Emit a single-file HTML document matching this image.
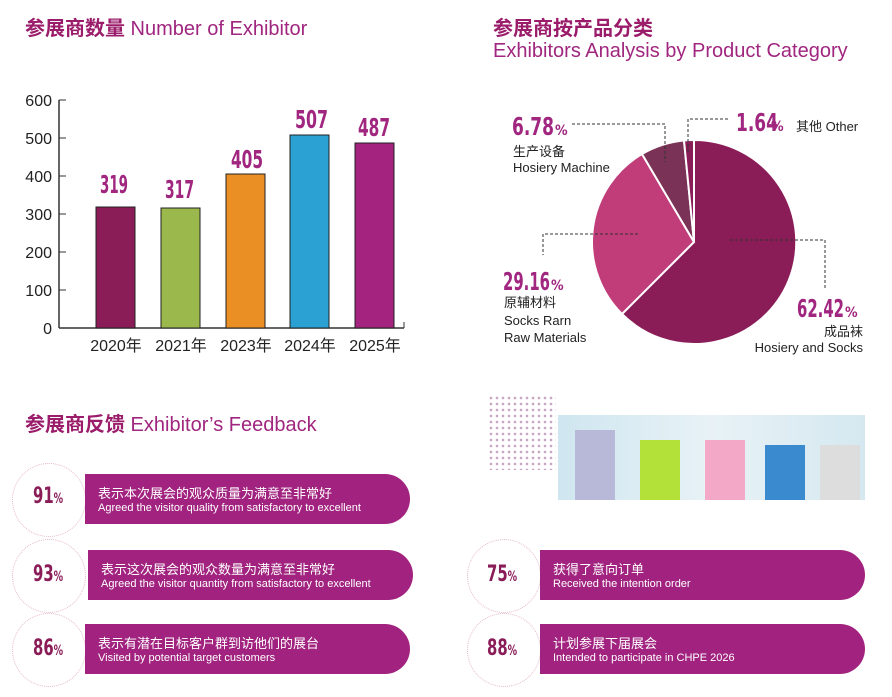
<!DOCTYPE html>
<html><head><meta charset="utf-8"><style>
body{margin:0;width:892px;height:697px;background:#fff;overflow:hidden;position:relative;font-family:"Liberation Sans","Noto Sans CJK SC",sans-serif;}
.t{position:absolute;font-size:20px;color:#a0267f;white-space:nowrap}
.t b{color:#9a1c6a}
.pill{position:absolute;height:50px;width:325px;background:#a1237f;border-radius:0 25px 25px 0;color:#fff}
.pill .c{position:absolute;left:13px;top:9px;font-size:13px}
.pill .e{position:absolute;left:13px;top:28px;font-size:11px}
.pc{position:absolute;font-family:"DejaVu Sans Condensed","Liberation Sans",sans-serif;font-weight:bold;color:#8a1c57;font-size:22px;transform:scaleX(.75);transform-origin:left}
.pc small{font-size:14px}
.circ{position:absolute;width:72px;height:72px;border-radius:50%;border:1px dotted #e5b8c8}
</style></head><body>
<div class="t" style="left:25px;top:12px"><b>参展商数量</b> Number of Exhibitor</div>
<div class="t" style="left:493px;top:12px"><b>参展商按产品分类</b></div>
<div class="t" style="left:493px;top:40px">Exhibitors Analysis by Product Category</div>
<div class="t" style="left:25px;top:408px"><b>参展商反馈</b> Exhibitor’s Feedback</div>
<svg width="892" height="697" style="position:absolute;left:0;top:0">
<g font-family="Liberation Sans,Noto Sans CJK SC,sans-serif" font-size="16" fill="#222">
<line x1="59" y1="100" x2="59" y2="328" stroke="#333" stroke-width="1.5"/>
<line x1="59" y1="328" x2="404" y2="328" stroke="#333" stroke-width="1.5"/>
<line x1="404" y1="322" x2="404" y2="328" stroke="#333"/>
<g stroke="#333"><line x1="59" y1="100" x2="66" y2="100"/><line x1="59" y1="138" x2="66" y2="138"/><line x1="59" y1="176" x2="66" y2="176"/><line x1="59" y1="214" x2="66" y2="214"/><line x1="59" y1="252" x2="66" y2="252"/><line x1="59" y1="290" x2="66" y2="290"/></g>
<g text-anchor="end"><text x="52" y="106">600</text><text x="52" y="144">500</text><text x="52" y="182">400</text><text x="52" y="220">300</text><text x="52" y="258">200</text><text x="52" y="296">100</text><text x="52" y="334">0</text></g>
<g stroke="#222" stroke-width="1">
<rect x="96" y="207" width="39" height="121" fill="#8a1c57"/>
<rect x="161" y="208" width="39" height="120" fill="#9bb84c"/>
<rect x="226" y="174" width="39" height="154" fill="#e98f24"/>
<rect x="290" y="135" width="39" height="193" fill="#2ba0d2"/>
<rect x="355" y="143" width="39" height="185" fill="#a3237f"/>
</g>
<g text-anchor="middle"><text x="116" y="351">2020年</text><text x="181" y="351">2021年</text><text x="246" y="351">2023年</text><text x="310" y="351">2024年</text><text x="375" y="351">2025年</text></g>
<g font-family="DejaVu Sans Condensed,sans-serif" font-weight="bold" font-size="25" fill="#a0267f" lengthAdjust="spacingAndGlyphs">
<text x="100" y="193" textLength="28" lengthAdjust="spacingAndGlyphs">319</text>
<text x="165" y="198" textLength="29" lengthAdjust="spacingAndGlyphs">317</text>
<text x="231" y="168" textLength="32" lengthAdjust="spacingAndGlyphs">405</text>
<text x="295" y="128" textLength="33" lengthAdjust="spacingAndGlyphs">507</text>
<text x="358" y="136" textLength="32" lengthAdjust="spacingAndGlyphs">487</text></g>
</g>
<g stroke="#fff" stroke-width="2">
<path d="M694,242 L694,140 A102,102 0 1 1 622,314 Z" fill="#8a1c57"/>
<path d="M694,242 L622,314 A102,102 0 0 1 642,154 Z" fill="#c03d7a"/>
<path d="M694,242 L642,154 A102,102 0 0 1 684,140.5 Z" fill="#7a3257"/>
<path d="M694,242 L684,140.5 A102,102 0 0 1 694,140 Z" fill="#8a1c57"/>
</g>
<g stroke="#333" stroke-dasharray="3,2" fill="none" stroke-width="1">
<polyline points="572,124 665,124 665,162"/>
<polyline points="688,152 688,119 730,119"/>
<polyline points="638,234 543,234 543,255"/>
<polyline points="730,240 825,240 825,290"/>
</g>
<g font-family="Liberation Sans,Noto Sans CJK SC,sans-serif" font-size="13" fill="#222">
<text x="513" y="156">生产设备</text><text x="513" y="172">Hosiery Machine</text>
<text x="796" y="131">其他 Other</text>
<text x="504" y="307">原辅材料</text><text x="504" y="325">Socks Rarn</text><text x="504" y="342">Raw Materials</text>
<text x="863" y="336" text-anchor="end">成品袜</text><text x="863" y="352" text-anchor="end">Hosiery and Socks</text>
</g>
<g font-family="DejaVu Sans Condensed,sans-serif" font-weight="bold" fill="#a0267f" font-size="25">
<text x="512" y="135" textLength="42" lengthAdjust="spacingAndGlyphs">6.78</text><text x="555" y="135" font-size="14">%</text>
<text x="736" y="131" textLength="42" lengthAdjust="spacingAndGlyphs">1.64</text><text x="771" y="131" font-size="14">%</text>
<text x="503" y="290" textLength="47" lengthAdjust="spacingAndGlyphs">29.16</text><text x="551" y="290" font-size="14">%</text>
<text x="797" y="317" textLength="47" lengthAdjust="spacingAndGlyphs">62.42</text><text x="845" y="317" font-size="14">%</text>
</g>
</svg>
<div style="position:absolute;left:488px;top:395px;width:68px;height:75px;background-image:radial-gradient(circle,#c9a8c4 1.2px,transparent 1.5px);background-size:6px 6px"></div>
<div style="position:absolute;left:558px;top:415px;width:307px;height:85px;background:linear-gradient(90deg,#cfe6f0,#e8f2f6 50%,#d5e8f0)"></div>
<div style="position:absolute;left:575px;top:430px;width:40px;height:70px;background:#b8b8d8"></div>
<div style="position:absolute;left:640px;top:440px;width:40px;height:60px;background:#b4e03a"></div>
<div style="position:absolute;left:705px;top:440px;width:40px;height:60px;background:#f4a8c8"></div>
<div style="position:absolute;left:765px;top:445px;width:40px;height:55px;background:#3a8ad0"></div>
<div style="position:absolute;left:820px;top:445px;width:40px;height:55px;background:#ddd"></div>
<div class="circ" style="left:12px;top:463px"></div><div class="circ" style="left:12px;top:539px"></div><div class="circ" style="left:12px;top:613px"></div>
<div class="circ" style="left:467px;top:539px"></div><div class="circ" style="left:467px;top:613px"></div>
<div class="pc" style="left:33px;top:484px">91<small>%</small></div>
<div class="pc" style="left:33px;top:562px">93<small>%</small></div>
<div class="pc" style="left:33px;top:636px">86<small>%</small></div>
<div class="pc" style="left:487px;top:562px">75<small>%</small></div>
<div class="pc" style="left:487px;top:636px">88<small>%</small></div>
<div class="pill" style="left:85px;top:474px"><div class="c">表示本次展会的观众质量为满意至非常好</div><div class="e">Agreed the visitor quality from satisfactory to excellent</div></div>
<div class="pill" style="left:88px;top:550px"><div class="c">表示这次展会的观众数量为满意至非常好</div><div class="e">Agreed the visitor quantity from satisfactory to excellent</div></div>
<div class="pill" style="left:85px;top:624px"><div class="c">表示有潜在目标客户群到访他们的展台</div><div class="e">Visited by potential target customers</div></div>
<div class="pill" style="left:540px;top:550px"><div class="c">获得了意向订单</div><div class="e">Received the intention order</div></div>
<div class="pill" style="left:540px;top:624px"><div class="c">计划参展下届展会</div><div class="e">Intended to participate in CHPE 2026</div></div>
</body></html>
